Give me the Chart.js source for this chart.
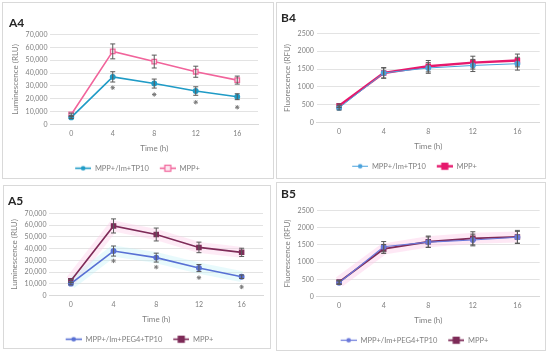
<!DOCTYPE html>
<html>
<head>
<meta charset="utf-8">
<script src="https://cdn.jsdelivr.net/npm/chart.js@4.4.1/dist/chart.umd.min.js"></script>
<style>
  body { margin: 0; background: #fff; width: 550px; height: 355px; position: relative; overflow: hidden; }
  .panel { position: absolute; border: 1px solid #d9d9d9; box-sizing: border-box; background: #fff; }
  .panel canvas { position: absolute; left: 0; top: 0; }
</style>
</head>
<body>
<div class="panel" style="left:2px;top:2px;width:272px;height:177px"><canvas id="a4" width="270" height="175"></canvas></div>
<div class="panel" style="left:276px;top:2px;width:270px;height:177px"><canvas id="b4" width="268" height="175"></canvas></div>
<div class="panel" style="left:3px;top:185px;width:268px;height:164px"><canvas id="a5" width="266" height="162"></canvas></div>
<div class="panel" style="left:276px;top:182px;width:270px;height:169px"><canvas id="b5" width="268" height="167"></canvas></div>

<script>
/* time points shared by all four panels */
const hours = ['0', '4', '8', '12', '16'];

// A4 - luminescence
const a4Treated = [5500, 37000, 31800, 26000, 21600];
const a4TreatedErr = [800, 4000, 3500, 3300, 2300];
const a4Mpp = [7800, 56800, 48900, 41000, 34500];
const a4MppErr = [1000, 5800, 5000, 4300, 3100];
const a4Stars = [null, 28600, 23300, 17300, 13400];

// B4 - fluorescence
const b4Treated = [410, 1390, 1530, 1600, 1650];
const b4TreatedErr = [60, 150, 150, 170, 180];
const b4Mpp = [470, 1390, 1580, 1680, 1740];
const b4MppErr = [50, 140, 160, 180, 180];

// A5 - luminescence
const a5Treated = [10100, 37900, 32300, 23400, 16000];
const a5TreatedErr = [1000, 4300, 3800, 3000, 1500];
const a5Mpp = [12600, 59300, 52000, 41000, 36800];
const a5MppErr = [1200, 6000, 5500, 4500, 3500];
const a5Stars = [null, 29500, 24200, 15200, 7300];

// B5 - fluorescence
const b5Treated = [400, 1445, 1580, 1640, 1720];
const b5TreatedErr = [50, 150, 150, 170, 170];
const b5Mpp = [420, 1380, 1590, 1690, 1730];
const b5MppErr = [50, 130, 165, 190, 190];

const lumTicks = [0, 10000, 20000, 30000, 40000, 50000, 60000, 70000];
const fluTicks = [0, 500, 1000, 1500, 2000, 2500];

const FONT = "Lato, 'Open Sans', sans-serif";
const TXT = '#7f7f7f';

// small line+marker picture for legend entries (excel style), left part left blank as gap
function legendIcon(color, shape, fill, lw) {
  const c = document.createElement('canvas');
  c.width = 24; c.height = 9;
  const g = c.getContext('2d');
  g.strokeStyle = color; g.lineWidth = lw;
  g.beginPath(); g.moveTo(8, 4.5); g.lineTo(24, 4.5); g.stroke();
  g.fillStyle = fill; g.lineWidth = 1.2;
  if (shape === 'rect') {
    g.fillRect(13, 1.5, 6, 6); g.strokeRect(13, 1.5, 6, 6);
  } else {
    g.beginPath(); g.arc(16, 4.5, 2.3, 0, Math.PI * 2); g.fill();
  }
  return c;
}

const errorBars = {
  id: 'errorBars',
  afterDatasetsDraw(chart) {
    const ctx = chart.ctx;
    const y = chart.scales.y;
    chart.data.datasets.forEach((ds, i) => {
      if (!ds.errors) return;
      const meta = chart.getDatasetMeta(i);
      ctx.save();
      ctx.strokeStyle = '#595959';
      ctx.lineWidth = 1;
      meta.data.forEach((pt, j) => {
        const e = ds.errors[j];
        const v = ds.data[j];
        if (v == null || !e) return;
        const top = y.getPixelForValue(v + e);
        const bot = y.getPixelForValue(v - e);
        ctx.beginPath();
        ctx.moveTo(pt.x, top); ctx.lineTo(pt.x, bot);
        ctx.moveTo(pt.x - 2.5, top); ctx.lineTo(pt.x + 2.5, top);
        ctx.moveTo(pt.x - 2.5, bot); ctx.lineTo(pt.x + 2.5, bot);
        ctx.stroke();
      });
      ctx.restore();
    });
  }
};

function makePanel(id, title, yTitle, yTicks, series, stars, bands, pad, tPad) {
  const datasets = series.map(s => ({
    label: s.label,
    data: s.data,
    errors: s.err,
    borderColor: s.color,
    backgroundColor: s.fill,
    borderWidth: s.lw,
    pointStyle: s.shape,
    pointRadius: s.r,
    pointBorderWidth: 1.3,
    pointBorderColor: s.color,
    pointBackgroundColor: s.fill,
    tension: 0,
    icon: legendIcon(s.color, s.shape, s.fill, s.lw)
  }));
  if (stars) {
    datasets.push({
      label: 'sig', data: stars, showLine: false, pointStyle: 'star',
      pointRadius: 2.2, borderColor: '#7a7a7a', borderWidth: 1, legendSkip: true
    });
  }
  if (bands) {
    series.forEach((s, i) => {
      if (!bands[i]) return;
      datasets.push({
        label: 'band', data: s.data, borderColor: bands[i], borderWidth: 11,
        pointRadius: 0, legendSkip: true, borderCapStyle: 'butt'
      });
    });
  }
  const lumi = yTicks[yTicks.length - 1] > 10000;
  new Chart(document.getElementById(id), {
    type: 'line',
    data: { labels: hours, datasets: datasets },
    options: {
      responsive: false,
      animation: false,
      layout: { padding: pad },
      plugins: {
        title: {
          display: true, text: title, align: 'start', color: '#262626',
          font: { family: FONT, size: 12, weight: 'bold' },
          padding: tPad
        },
        legend: {
          position: 'bottom',
          labels: {
            usePointStyle: true, pointStyleWidth: 24, boxHeight: 9,
            color: TXT, font: { family: FONT, size: 7.5 }, padding: 3,
            filter: item => !datasets[item.datasetIndex].legendSkip,
            generateLabels: chart => chart.data.datasets.map((ds, i) => ({
              text: ds.label, datasetIndex: i, pointStyle: ds.icon,
              fontColor: TXT, lineWidth: 0, strokeStyle: 'transparent', fillStyle: 'transparent'
            }))
          }
        },
        tooltip: { enabled: false }
      },
      scales: {
        x: {
          offset: true,
          grid: { display: false, drawTicks: false },
          border: { color: '#d9d9d9' },
          ticks: { color: TXT, font: { family: FONT, size: 7 }, padding: 5 },
          title: { display: true, text: 'Time (h)', color: TXT, font: { family: FONT, size: 8 }, padding: { top: 1, bottom: 8 } }
        },
        y: {
          min: yTicks[0], max: yTicks[yTicks.length - 1],
          afterBuildTicks: axis => { axis.ticks = yTicks.map(v => ({ value: v })); },
          grid: { color: '#e3e3e3', drawTicks: false },
          border: { display: false },
          ticks: {
            autoSkip: false,
            color: TXT, font: { family: FONT, size: 7 }, padding: 3,
            callback: v => lumi ? v.toLocaleString('en-US') : String(v)
          },
          title: { display: true, text: yTitle, color: TXT, font: { family: FONT, size: 8 }, padding: 2 }
        }
      }
    },
    plugins: [errorBars]
  });
}

makePanel('a4', 'A4', 'Luminescence (RLU)', lumTicks, [
  { label: 'MPP+/Im+TP10', data: a4Treated, err: a4TreatedErr, color: '#1f9bc6', fill: '#1f9bc6', lw: 1.6, shape: 'circle', r: 2.3 },
  { label: 'MPP+', data: a4Mpp, err: a4MppErr, color: '#f1649b', fill: '#fde6ef', lw: 1.6, shape: 'rect', r: 3.2 }
], a4Stars, null, { left: 6, right: 15, bottom: -4 }, { top: 13, bottom: 4 });

makePanel('b4', 'B4', 'Fluorescence (RFU)', fluTicks, [
  { label: 'MPP+/Im+TP10', data: b4Treated, err: b4TreatedErr, color: '#4aa2dc', fill: '#4aa2dc', lw: 1, shape: 'circle', r: 2.3 },
  { label: 'MPP+', data: b4Mpp, err: b4MppErr, color: '#e6196d', fill: '#e6196d', lw: 2.4, shape: 'rect', r: 3 }
], null, null, { left: 4, right: 5, bottom: -2 }, { top: 8, bottom: 8 });

makePanel('a5', 'A5', 'Luminescence (RLU)', lumTicks, [
  { label: 'MPP+/Im+PEG4+TP10', data: a5Treated, err: a5TreatedErr, color: '#5870d4', fill: '#5870d4', lw: 1.6, shape: 'circle', r: 2.3 },
  { label: 'MPP+', data: a5Mpp, err: a5MppErr, color: '#7e2b58', fill: '#7e2b58', lw: 1.6, shape: 'rect', r: 3 }
], a5Stars, ['rgba(190,240,245,0.35)', 'rgba(252,205,232,0.4)'], { left: 4, right: 7, bottom: -5 }, { top: 8, bottom: 5 });

makePanel('b5', 'B5', 'Fluorescence (RFU)', fluTicks, [
  { label: 'MPP+/Im+PEG4+TP10', data: b5Treated, err: b5TreatedErr, color: '#6a78da', fill: '#6a78da', lw: 1.2, shape: 'circle', r: 2.3 },
  { label: 'MPP+', data: b5Mpp, err: b5MppErr, color: '#7e2b58', fill: '#7e2b58', lw: 1.8, shape: 'rect', r: 3 }
], null, [null, 'rgba(252,205,232,0.45)'], { left: 4, right: 5, bottom: -4 }, { top: 4, bottom: 9 });
</script>
</body>
</html>
